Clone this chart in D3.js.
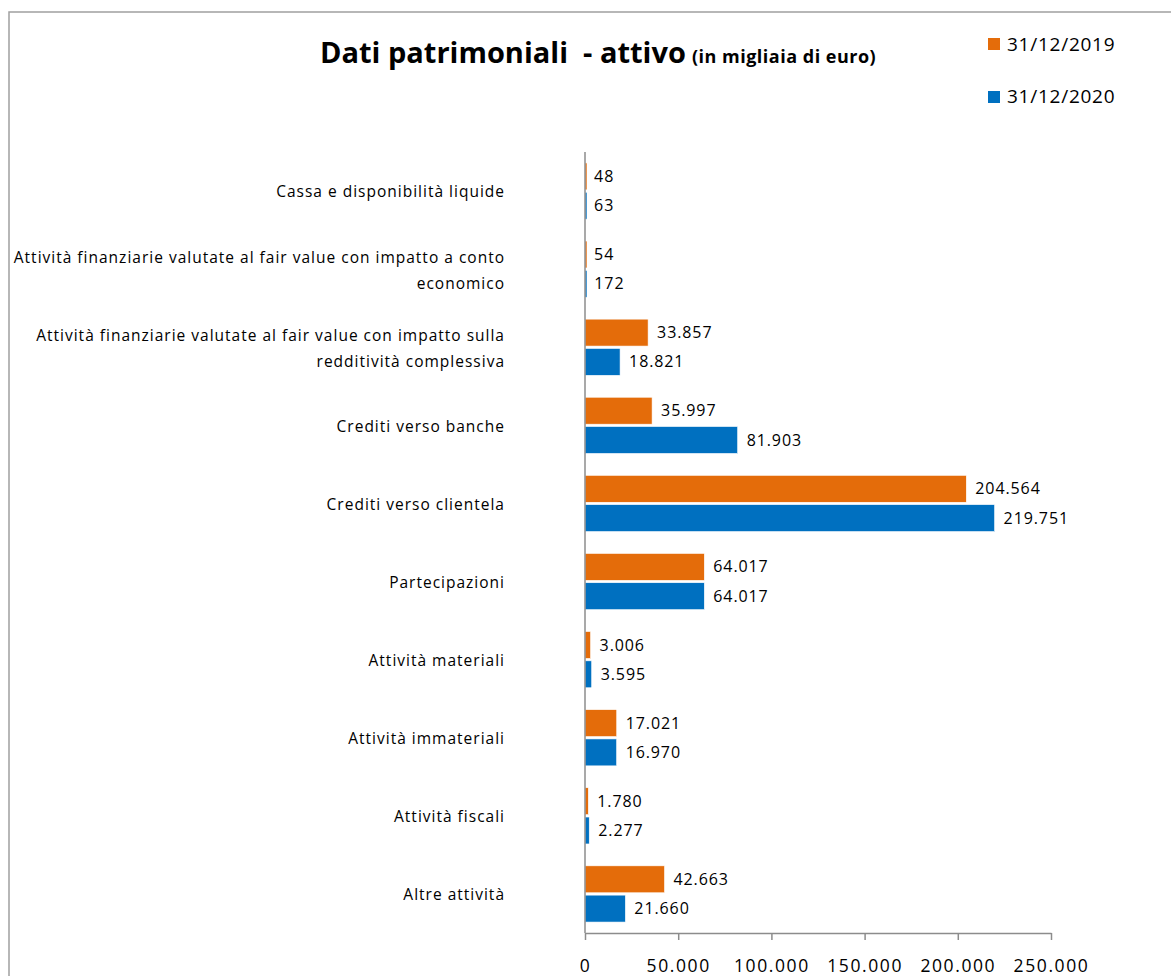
<!DOCTYPE html>
<html>
<head>
<meta charset="utf-8">
<script src="https://cdn.jsdelivr.net/npm/d3@7"></script>
<style>
  body { margin: 0; background: #fff; }
  svg text { font-family: "Open Sans", Lato, sans-serif; fill: #000; }
</style>
</head>
<body>
<div id="chart"></div>
<script>
// Data (in migliaia di euro)
const categories = [
    "Cassa e disponibilità liquide",
    "Attività finanziarie valutate al fair value con impatto a conto economico",
    "Attività finanziarie valutate al fair value con impatto sulla redditività complessiva",
    "Crediti verso banche",
    "Crediti verso clientela",
    "Partecipazioni",
    "Attività materiali",
    "Attività immateriali",
    "Attività fiscali",
    "Altre attività"
];
const seriesNames = ["31/12/2019", "31/12/2020"];
const values2019 = [48, 54, 33857, 35997, 204564, 64017, 3006, 17021, 1780, 42663];
const values2020 = [63, 172, 18821, 81903, 219751, 64017, 3595, 16970, 2277, 21660];
const xTicks = [0, 50000, 100000, 150000, 200000, 250000];

const width = 1171, height = 976;
const margin = { top: 152, left: 585, right: 120, bottom: 43 };

const itLocale = d3.formatLocale({ decimal: ",", thousands: ".", grouping: [3], currency: ["€", ""] });
const fmt = itLocale.format(",d");

const svg = d3.select("#chart")
    .append("svg")
    .attr("width", width)
    .attr("height", height);

// chart area border
svg.append("rect")
    .attr("x", 9).attr("y", 12)
    .attr("width", width + 20).attr("height", height + 20)
    .attr("fill", "none")
    .attr("stroke", "#a0a0a0")
    .attr("stroke-width", 1.5);

// scales
const x = d3.scaleLinear()
    .domain([0, 250000])
    .range([margin.left, 1051]);

const y0 = d3.scaleBand()
    .domain(categories)
    .range([margin.top, height - margin.bottom])
    .paddingInner(0.28)
    .paddingOuter(0.14);

const y1 = d3.scaleBand()
    .domain(seriesNames)
    .range([0, y0.bandwidth()])
    .paddingInner(0.08);

const color = d3.scaleOrdinal()
    .domain(seriesNames)
    .range(["#e46c0a", "#0070c0"]);

const rows = categories.map((c, i) => ({
    cat: c,
    vals: [
        { key: seriesNames[0], v: values2019[i] },
        { key: seriesNames[1], v: values2020[i] }
    ]
}));

// bars
const groups = svg.selectAll(".grp")
    .data(rows)
    .enter()
    .append("g")
    .attr("transform", d => `translate(0, ${y0(d.cat)})`);

groups.selectAll("rect")
    .data(d => d.vals)
    .enter()
    .append("rect")
    .attr("x", x(0))
    .attr("y", d => y1(d.key))
    .attr("width", d => Math.max(x(d.v) - x(0), 2))
    .attr("height", y1.bandwidth())
    .attr("fill", d => color(d.key))
    .attr("stroke", "#fff")
    .attr("stroke-width", 0.6);

// data labels
groups.selectAll(".lbl")
    .data(d => d.vals)
    .enter()
    .append("text")
    .attr("x", d => x(d.v) + 9)
    .attr("y", d => y1(d.key) + y1.bandwidth() / 2)
    .attr("dy", "0.35em")
    .style("font-size", "16px")
    .style("letter-spacing", "0.9px")
    .text(d => fmt(d.v));

// axes
const axisY = height - margin.bottom;
svg.append("line")
    .attr("x1", x(0)).attr("x2", x(0))
    .attr("y1", margin.top).attr("y2", axisY)
    .attr("stroke", "#8c8c8c").attr("stroke-width", 1.5);

const xAxis = svg.append("g")
    .attr("transform", `translate(0, ${axisY})`)
    .call(d3.axisBottom(x).tickValues(xTicks).tickFormat(fmt).tickSize(7).tickSizeOuter(0).tickPadding(20));
xAxis.select(".domain").attr("stroke", "#8c8c8c").attr("stroke-width", 1.5);
xAxis.selectAll(".tick line").attr("stroke", "#8c8c8c").attr("stroke-width", 1.5);
xAxis.selectAll(".tick text")
    .style("font-size", "17.5px")
    .style("letter-spacing", "1.6px")
    .style("font-family", "'Open Sans', sans-serif")
    .attr("fill", "#000");

// category labels, wrapped
const maxW = 495;
svg.selectAll(".cat")
    .data(categories)
    .enter()
    .append("text")
    .attr("text-anchor", "end")
    .style("font-size", "15.5px")
    .style("letter-spacing", "1px")
    .each(function(c) {
        const t = d3.select(this);
        const words = c.split(" ");
        const lines = [];
        let line = [];
        const probe = t.append("tspan");
        words.forEach(w => {
            line.push(w);
            probe.text(line.join(" "));
            if (probe.node().getComputedTextLength() > maxW && line.length > 1) {
                line.pop();
                lines.push(line.join(" "));
                line = [w];
            }
        });
        lines.push(line.join(" "));
        probe.remove();
        const cy = y0(c) + y0.bandwidth() / 2 + 1;
        const lh = 26;
        lines.forEach((l, i) => {
            t.append("tspan")
                .attr("x", 505)
                .attr("y", cy - (lines.length - 1) * lh / 2 + i * lh)
                .attr("dy", "0.35em")
                .text(l);
        });
    });

// title
const title = svg.append("text")
    .attr("x", 320)
    .attr("y", 63)
    .style("font-weight", "bold")
    .style("white-space", "pre");
title.append("tspan").style("font-size", "29px").text("Dati patrimoniali  - attivo");
title.append("tspan").style("font-size", "18px").style("letter-spacing", "0.5px").attr("dx", 6).text("(in migliaia di euro)");

// legend
const legend = svg.append("g").attr("transform", "translate(988, 38)");
seriesNames.forEach((s, i) => {
    legend.append("rect")
        .attr("x", 0)
        .attr("y", i * 53)
        .attr("width", 12)
        .attr("height", 12)
        .attr("fill", color(s));
    legend.append("text")
        .attr("x", 19)
        .attr("y", i * 52 + 6)
        .attr("dy", "0.35em")
        .style("font-size", "19px")
        .style("letter-spacing", "0.75px")
        .text(s);
});
</script>
</body>
</html>
